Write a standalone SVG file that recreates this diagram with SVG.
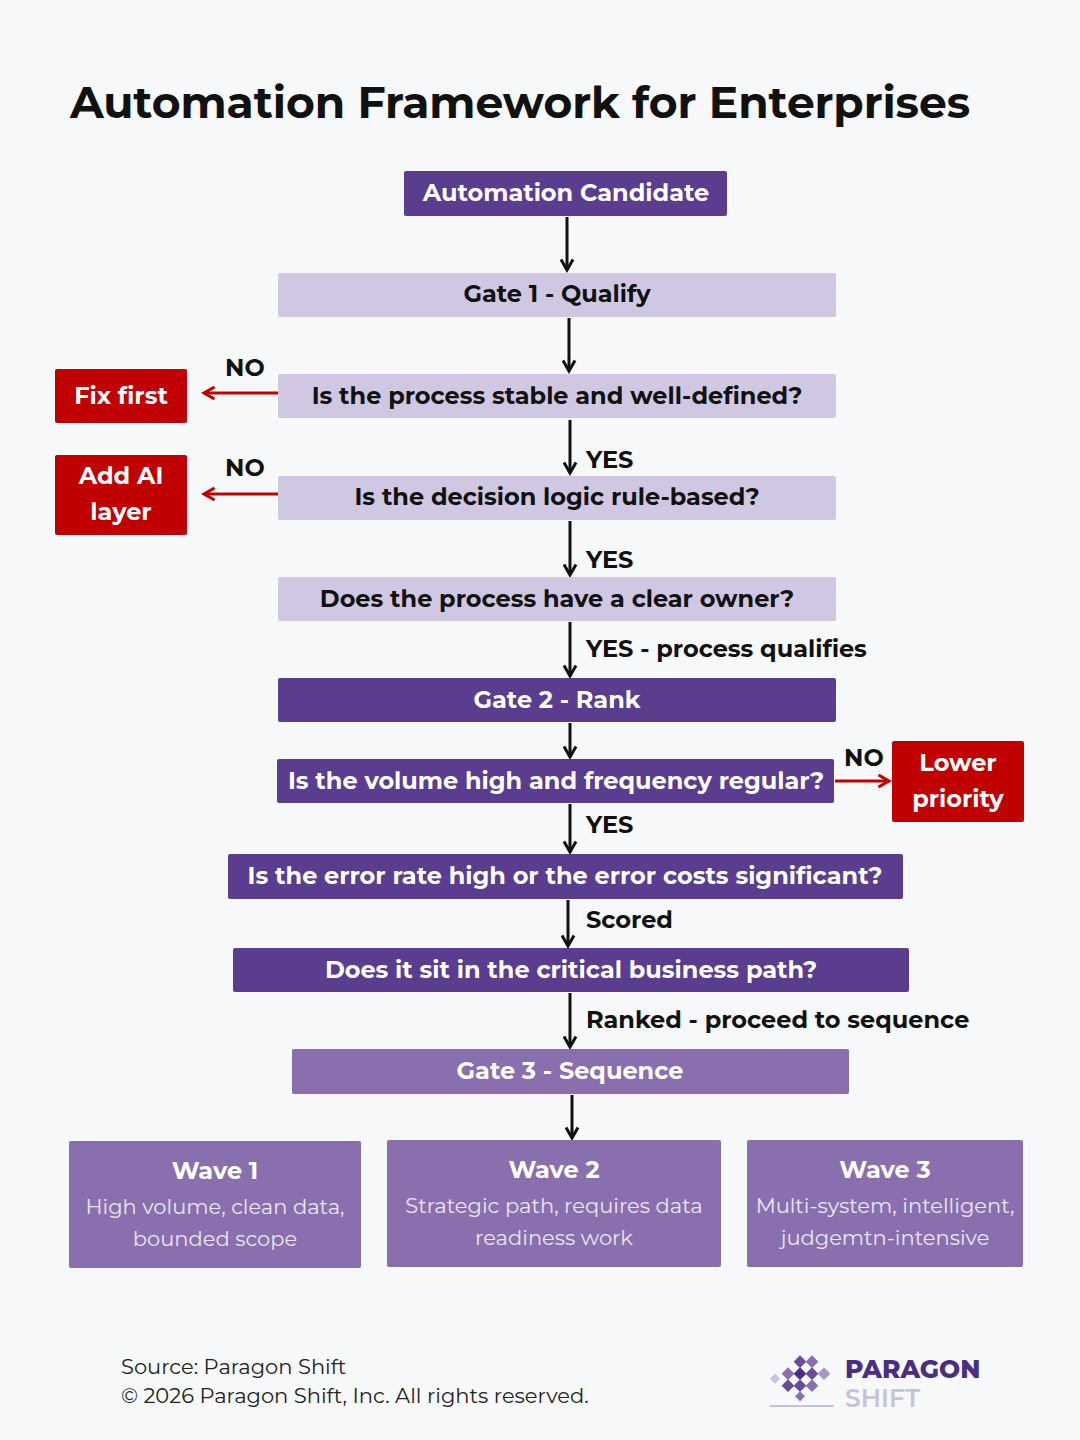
<svg xmlns="http://www.w3.org/2000/svg" width="1080" height="1440" viewBox="0 0 1080 1440">
<defs>
<style>
text{font-family:Montserrat,"Open Sans","Liberation Sans",sans-serif}
.b{font-weight:700;font-size:24px;text-anchor:middle}
.w{fill:#fff}.k{fill:#111}
.lab{font-weight:700;font-size:24px;fill:#111}
.lt{fill:#d0c8e2}.dk{fill:#5a3d8f}.md{fill:#8a6fae}.rd{fill:#c00000}
.wt{font-size:21px;fill:#ece6f4;text-anchor:middle}
.c{stroke:#111;stroke-width:3;fill:none}
.r{stroke:#c00000;stroke-width:3;fill:none}
</style>
<marker id="a" viewBox="0 0 10 10" refX="8" refY="5" markerWidth="5" markerHeight="5" orient="auto"><path d="M1,1 L8,5 L1,9" fill="none" stroke="#111" stroke-width="2"/></marker>
<marker id="ar" viewBox="0 0 10 10" refX="8" refY="5" markerWidth="5" markerHeight="5" orient="auto"><path d="M1,1 L8,5 L1,9" fill="none" stroke="#c00000" stroke-width="2"/></marker>
</defs>
<rect width="1080" height="1440" fill="#f7f8fa"/>
<text x="70" y="118" font-size="44" font-weight="700" fill="#111" textLength="900">Automation Framework for Enterprises</text>
<g id="connectors">
<line class="c" x1="567" y1="217" x2="567" y2="270" marker-end="url(#a)"/>
<line class="c" x1="569" y1="318" x2="569" y2="371" marker-end="url(#a)"/>
<line class="c" x1="570" y1="420" x2="570" y2="473" marker-end="url(#a)"/>
<line class="c" x1="570" y1="521" x2="570" y2="575" marker-end="url(#a)"/>
<line class="c" x1="570" y1="622" x2="570" y2="676" marker-end="url(#a)"/>
<line class="c" x1="570" y1="723" x2="570" y2="757" marker-end="url(#a)"/>
<line class="c" x1="570" y1="804" x2="570" y2="852" marker-end="url(#a)"/>
<line class="c" x1="568" y1="900" x2="568" y2="946" marker-end="url(#a)"/>
<line class="c" x1="570" y1="993" x2="570" y2="1047" marker-end="url(#a)"/>
<line class="c" x1="572" y1="1095" x2="572" y2="1138" marker-end="url(#a)"/>
<line class="r" x1="278" y1="393" x2="204" y2="393" marker-end="url(#ar)"/>
<line class="r" x1="278" y1="494" x2="204" y2="494" marker-end="url(#ar)"/>
<line class="r" x1="835" y1="781" x2="889" y2="781" marker-end="url(#ar)"/>
<text class="lab" x="225" y="376">NO</text>
<text class="lab" x="225" y="476">NO</text>
<text class="lab" x="844" y="766">NO</text>
<text class="lab" x="586" y="468">YES</text>
<text class="lab" x="586" y="568">YES</text>
<text class="lab" x="586" y="657">YES - process qualifies</text>
<text class="lab" x="586" y="833">YES</text>
<text class="lab" x="586" y="928">Scored</text>
<text class="lab" x="586" y="1028">Ranked - proceed to sequence</text>
</g>
<g id="n-cand"><rect class="dk" x="404" y="171" width="323" height="45" rx="2"/><text class="b w" x="566" y="201">Automation Candidate</text></g>
<g id="n-g1"><rect class="lt" x="278" y="273" width="558" height="44" rx="2"/><text class="b k" x="557" y="302">Gate 1 - Qualify</text></g>
<g id="n-q1"><rect class="lt" x="278" y="374" width="558" height="44" rx="2"/><text class="b k" x="557" y="404">Is the process stable and well-defined?</text></g>
<g id="n-fix"><rect class="rd" x="55" y="369" width="132" height="54" rx="2"/><text class="b w" x="121" y="404">Fix first</text></g>
<g id="n-q2"><rect class="lt" x="278" y="476" width="558" height="44" rx="2"/><text class="b k" x="557" y="505">Is the decision logic rule-based?</text></g>
<g id="n-ai"><rect class="rd" x="55" y="455" width="132" height="80" rx="2"/><text class="b w" x="121" y="484">Add AI</text><text class="b w" x="121" y="520">layer</text></g>
<g id="n-q3"><rect class="lt" x="278" y="577" width="558" height="44" rx="2"/><text class="b k" x="557" y="607">Does the process have a clear owner?</text></g>
<g id="n-g2"><rect class="dk" x="278" y="678" width="558" height="44" rx="2"/><text class="b w" x="557" y="708">Gate 2 - Rank</text></g>
<g id="n-q4"><rect class="dk" x="277" y="759" width="557" height="44" rx="2"/><text class="b w" x="556" y="789">Is the volume high and frequency regular?</text></g>
<g id="n-low"><rect class="rd" x="892" y="741" width="132" height="81" rx="2"/><text class="b w" x="958" y="771">Lower</text><text class="b w" x="958" y="807">priority</text></g>
<g id="n-q5"><rect class="dk" x="228" y="854" width="675" height="45" rx="2"/><text class="b w" x="565" y="884">Is the error rate high or the error costs significant?</text></g>
<g id="n-q6"><rect class="dk" x="233" y="948" width="676" height="44" rx="2"/><text class="b w" x="571" y="978">Does it sit in the critical business path?</text></g>
<g id="n-g3"><rect class="md" x="292" y="1049" width="557" height="45" rx="2"/><text class="b w" x="570" y="1079">Gate 3 - Sequence</text></g>
<g id="n-w1"><rect class="md" x="69" y="1141" width="292" height="127" rx="2"/><text class="b w" x="215" y="1179">Wave 1</text><text class="wt" x="215" y="1214">High volume, clean data,</text><text class="wt" x="215" y="1246">bounded scope</text></g>
<g id="n-w2"><rect class="md" x="387" y="1140" width="334" height="127" rx="2"/><text class="b w" x="554" y="1178">Wave 2</text><text class="wt" x="554" y="1213">Strategic path, requires data</text><text class="wt" x="554" y="1245">readiness work</text></g>
<g id="n-w3"><rect class="md" x="747" y="1140" width="276" height="127" rx="2"/><text class="b w" x="885" y="1178">Wave 3</text><text class="wt" x="885" y="1213">Multi-system, intelligent,</text><text class="wt" x="885" y="1245">judgemtn-intensive</text></g>
<text x="121" y="1374" font-size="21" fill="#222">Source: Paragon Shift</text>
<text x="121" y="1403" font-size="21" fill="#222">© 2026 Paragon Shift, Inc. All rights reserved.</text>
<g id="logo">
<g fill="#6a4c9c">
<rect x="796" y="1357" width="9" height="9" transform="rotate(45 800 1361)"/>
<rect x="808" y="1357" width="9" height="9" transform="rotate(45 812 1361)" fill="#8a6fae"/>
<rect x="784" y="1369" width="9" height="9" transform="rotate(45 788 1373)" fill="#8a6fae"/>
<rect x="796" y="1369" width="9" height="9" transform="rotate(45 800 1373)" fill="#4b2e83"/>
<rect x="808" y="1369" width="9" height="9" transform="rotate(45 812 1373)"/>
<rect x="820" y="1369" width="9" height="9" transform="rotate(45 824 1373)" fill="#a898c8"/>
<rect x="784" y="1381" width="9" height="9" transform="rotate(45 788 1385)"/>
<rect x="796" y="1381" width="9" height="9" transform="rotate(45 800 1385)"/>
<rect x="808" y="1381" width="9" height="9" transform="rotate(45 812 1385)" fill="#8a6fae"/>
<rect x="772" y="1375" width="7" height="7" transform="rotate(45 775 1378)" fill="#c8c0dc"/>
<rect x="796" y="1393" width="7" height="7" transform="rotate(45 800 1397)" fill="#8a6fae"/>
</g>
<line x1="770" y1="1406" x2="834" y2="1406" stroke="#c8c0dc" stroke-width="2"/>
<text x="845" y="1378" font-size="25" font-weight="800" fill="#4b2e83">PARAGON</text>
<text x="845" y="1407" font-size="25" font-weight="600" fill="#c8c3d4">SHIFT</text>
</g>
</svg>
